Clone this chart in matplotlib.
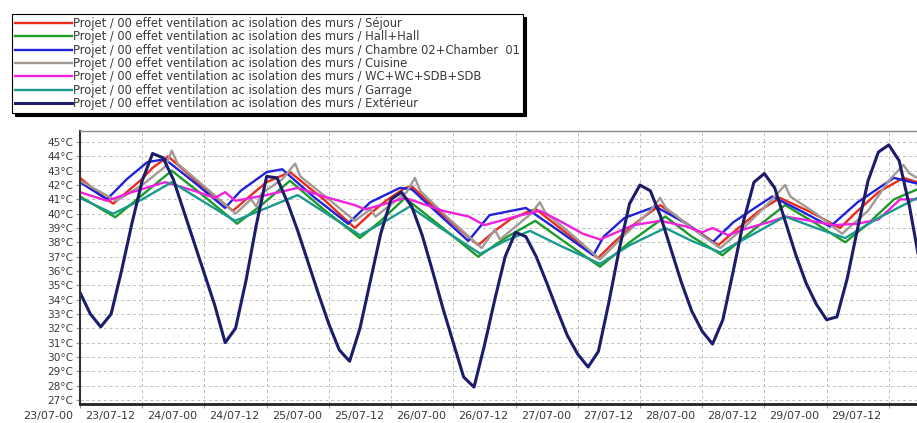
import matplotlib
matplotlib.use('Agg')
import matplotlib.pyplot as plt
import matplotlib.transforms as mtransforms

plt.rcParams['font.family'] = ['DejaVu Sans']

# axe des temps : heures depuis le 23/07 00h
x_ticks = list(range(0, 157, 12))
x_labels = ['23/07-00', '23/07-12', '24/07-00', '24/07-12', '25/07-00', '25/07-12',
            '26/07-00', '26/07-12', '27/07-00', '27/07-12', '28/07-00', '28/07-12',
            '29/07-00', '29/07-12']
y_ticks = list(range(27, 46))

prefix = 'Projet / 00 effet ventilation ac isolation des murs / '
zones = ['Séjour', 'Hall+Hall', 'Chambre 02+Chamber  01', 'Cuisine',
         'WC+WC+SDB+SDB', 'Garrage', 'Extérieur']
colors = ['#ea2a1c', '#1c9a2a', '#1f22d8', '#a29a92', '#ee22dd', '#1a9a8c', '#1c1c6a']

# valeurs (°C)
t_sejour = [0, 3, 6.4, 9, 11.6, 14, 17, 23, 29.5, 33, 36, 40.5, 47, 53, 56, 59, 62.7, 64,
            70, 76.8, 80, 83, 86.8, 88, 94, 99.9, 103, 107, 111.9, 117, 123.1, 127, 131,
            135, 141, 146.6, 150, 154, 158.8, 161.5]
v_sejour = [42.5, 41.6, 40.7, 41.5, 42.3, 43.2, 44.0, 42.1, 40.2, 41.3, 42.2, 42.9, 41.0,
            39.0, 40.0, 40.9, 41.8, 41.9, 39.9, 37.8, 38.8, 39.6, 40.2, 40.3, 38.6, 36.9,
            38.0, 39.3, 40.6, 39.3, 37.8, 39.0, 40.2, 41.1, 40.1, 39.0, 40.2, 41.5, 42.5, 42.2]

t_hall = [0, 6.8, 12, 17.7, 24, 30.3, 35, 40.5, 47, 54, 58, 62.7, 70, 76.8, 82, 87.8, 94,
          100.3, 106, 112.9, 118, 123.9, 130, 136, 142, 147.6, 152, 157, 161.5]
v_hall = [41.2, 39.75, 41.3, 43.0, 41.2, 39.3, 40.6, 42.3, 40.3, 38.3, 39.5, 41.1, 39.0,
          37.0, 38.3, 39.5, 37.9, 36.3, 38.0, 39.8, 38.4, 37.1, 38.9, 40.6, 39.3, 38.0,
          39.3, 41.0, 41.7]

t_chambre = [0, 5.2, 9, 13, 16.4, 22, 28, 31, 36, 39, 45, 51.7, 56, 61.7, 64, 70, 74.9, 79,
             86, 92, 99, 101, 105, 111, 117, 122, 126, 133.5, 139, 144.7, 150, 157, 161.5]
v_chambre = [42.2, 41.0, 42.4, 43.6, 43.8, 42.2, 40.4, 41.6, 42.9, 43.1, 41.2, 39.3, 40.8,
             41.8, 41.7, 39.7, 38.1, 39.9, 40.4, 38.9, 37.1, 38.4, 39.7, 40.5, 39.3, 38.0,
             39.4, 41.2, 40.2, 39.1, 40.8, 42.5, 42.1]

t_cuisine = [0, 7, 12, 16.5, 17.7, 18.8, 24, 30, 33, 34, 35, 39, 41.5, 42.5, 48, 53, 56, 57,
             63, 64.6, 65.6, 71, 77.5, 80, 81, 87, 88.7, 89.7, 95, 100.3, 105, 110, 111.9,
             113, 118, 123.5, 128, 133, 136, 137, 142, 147, 152, 156, 158.8, 160, 161.5]
v_cuisine = [42.3, 40.9, 42.0, 43.3, 44.4, 43.5, 41.9, 40.0, 41.0, 40.5, 41.4, 42.4, 43.5,
             42.6, 41.0, 39.5, 40.3, 39.8, 41.5, 42.5, 41.6, 39.7, 37.6, 38.9, 38.2, 40.0,
             40.8, 40.1, 38.5, 36.8, 38.5, 40.2, 41.1, 40.4, 39.0, 37.6, 39.0, 40.8, 42.0,
             41.2, 40.0, 38.6, 40.2, 42.3, 43.4, 42.8, 42.5]

t_wc = [0, 5.2, 10, 16.4, 22, 26, 28, 30, 36, 42, 47, 50, 53, 55, 59, 62.7, 66, 70, 75, 78,
        84, 88.7, 92, 97, 100.3, 106.7, 112, 117, 120, 122, 125, 128, 133.7, 136, 141,
        145.3, 150, 154, 158.2, 161.5]
v_wc = [41.5, 40.9, 41.5, 42.2, 41.6, 41.1, 41.5, 40.9, 41.3, 41.8, 41.2, 40.9, 40.6, 40.3,
        40.7, 41.1, 40.7, 40.2, 39.8, 39.2, 39.8, 40.2, 39.6, 38.6, 38.2, 39.2, 39.5, 39.1,
        38.7, 39.0, 38.5, 38.9, 39.5, 39.8, 39.5, 39.2, 39.3, 39.6, 41.0, 41.0]

t_garrage = [0, 6.4, 12, 17.7, 24, 29.9, 36, 42, 48, 54, 59, 63.6, 70, 77.2, 82, 86.8, 93,
             100.3, 106, 112.9, 118, 123.5, 130, 136, 142, 147.6, 154, 161.5]
v_garrage = [41.1, 40.0, 41.0, 42.2, 40.8, 39.5, 40.4, 41.3, 39.9, 38.5, 39.5, 40.5, 38.9,
             37.2, 38.1, 38.8, 37.7, 36.5, 37.8, 39.0, 38.1, 37.3, 38.6, 39.8, 39.0, 38.3,
             39.7, 41.1]

t_ext = list(range(0, 163, 2))
v_ext = [34.5, 33.0, 32.1, 33.0, 36.0, 39.3, 42.3, 44.2, 43.9, 42.4,
         40.2, 38.0, 35.8, 33.6, 31.0, 32.0, 35.3, 39.2, 42.6, 42.5,
         40.8, 38.8, 36.6, 34.4, 32.3, 30.5, 29.7, 32.0, 35.3, 38.6,
         41.0, 41.5, 40.5, 38.5, 36.0, 33.4, 31.0, 28.6, 27.9, 30.8,
         34.0, 37.0, 38.7, 38.4, 37.0, 35.2, 33.3, 31.5, 30.2, 29.3,
         30.4, 33.8, 37.5, 40.7, 42.0, 41.6, 39.8, 37.5, 35.2, 33.2,
         31.8, 30.9, 32.6, 36.0, 39.5, 42.2, 42.8, 41.8, 39.5, 37.2,
         35.2, 33.7, 32.6, 32.8, 35.5, 39.0, 42.3, 44.3, 44.8, 43.7,
         40.5, 36.5]

series = [(t_sejour, v_sejour), (t_hall, v_hall), (t_chambre, v_chambre),
          (t_cuisine, v_cuisine), (t_wc, v_wc), (t_garrage, v_garrage), (t_ext, v_ext)]

W, H = 917, 423
fig = plt.figure(figsize=(W / 100, H / 100), dpi=100)
fig.patch.set_facecolor('white')
# la zone de tracé continue au-delà du bord droit de l'image
ax = fig.add_axes([80 / W, 19 / H, 871 / W, 273 / H])

handles = []
for (t, v), zone, c in zip(series, zones, colors):
    lw = 2.2 if zone == 'Extérieur' else 1.7
    ln, = ax.plot(t, v, color=c, lw=lw, label=prefix + zone, solid_joinstyle='round')
    handles.append(ln)

ax.set_xlim(0, 168)
ax.set_ylim(26.72, 45.77)
ax.set_xticks(x_ticks)
ax.set_xticklabels(x_labels)
ax.set_yticks(y_ticks)
ax.set_yticklabels([f'{y}°C' for y in y_ticks])
ax.tick_params(axis='both', labelsize=7.6, length=3, color='#999999', labelcolor='#3a3a3a', pad=2)
ax.tick_params(axis='x', labelsize=8)

offset = mtransforms.ScaledTranslation(-5 / 72, 0, fig.dpi_scale_trans)
for lbl in ax.get_xticklabels():
    lbl.set_ha('right')
    lbl.set_transform(lbl.get_transform() + offset)

ax.grid(True, color='#bdbdbd', linestyle=(0, (3, 3)), lw=0.7)
ax.set_axisbelow(True)
ax.spines['top'].set_color('#888888')
ax.spines['top'].set_linewidth(1)
ax.spines['left'].set_color('#333333')
ax.spines['left'].set_linewidth(1.5)
ax.spines['bottom'].set_color('#222222')
ax.spines['bottom'].set_linewidth(2)
ax.spines['right'].set_visible(False)

leg = fig.legend(handles=handles, loc='upper left', bbox_to_anchor=(12 / W, 1 - 14 / H),
                 fontsize=8.3, handlelength=4.95, handletextpad=0.1, labelspacing=0.03,
                 borderpad=0.25, borderaxespad=0, fancybox=False, edgecolor='black',
                 framealpha=1,
                 shadow={'ox': 2, 'oy': -2, 'facecolor': 'black', 'edgecolor': 'black',
                         'alpha': 1})
leg.get_frame().set_linewidth(0.8)
for txt in leg.get_texts():
    txt.set_color('#3a3a3a')

fig.savefig('out.png', dpi=100)
